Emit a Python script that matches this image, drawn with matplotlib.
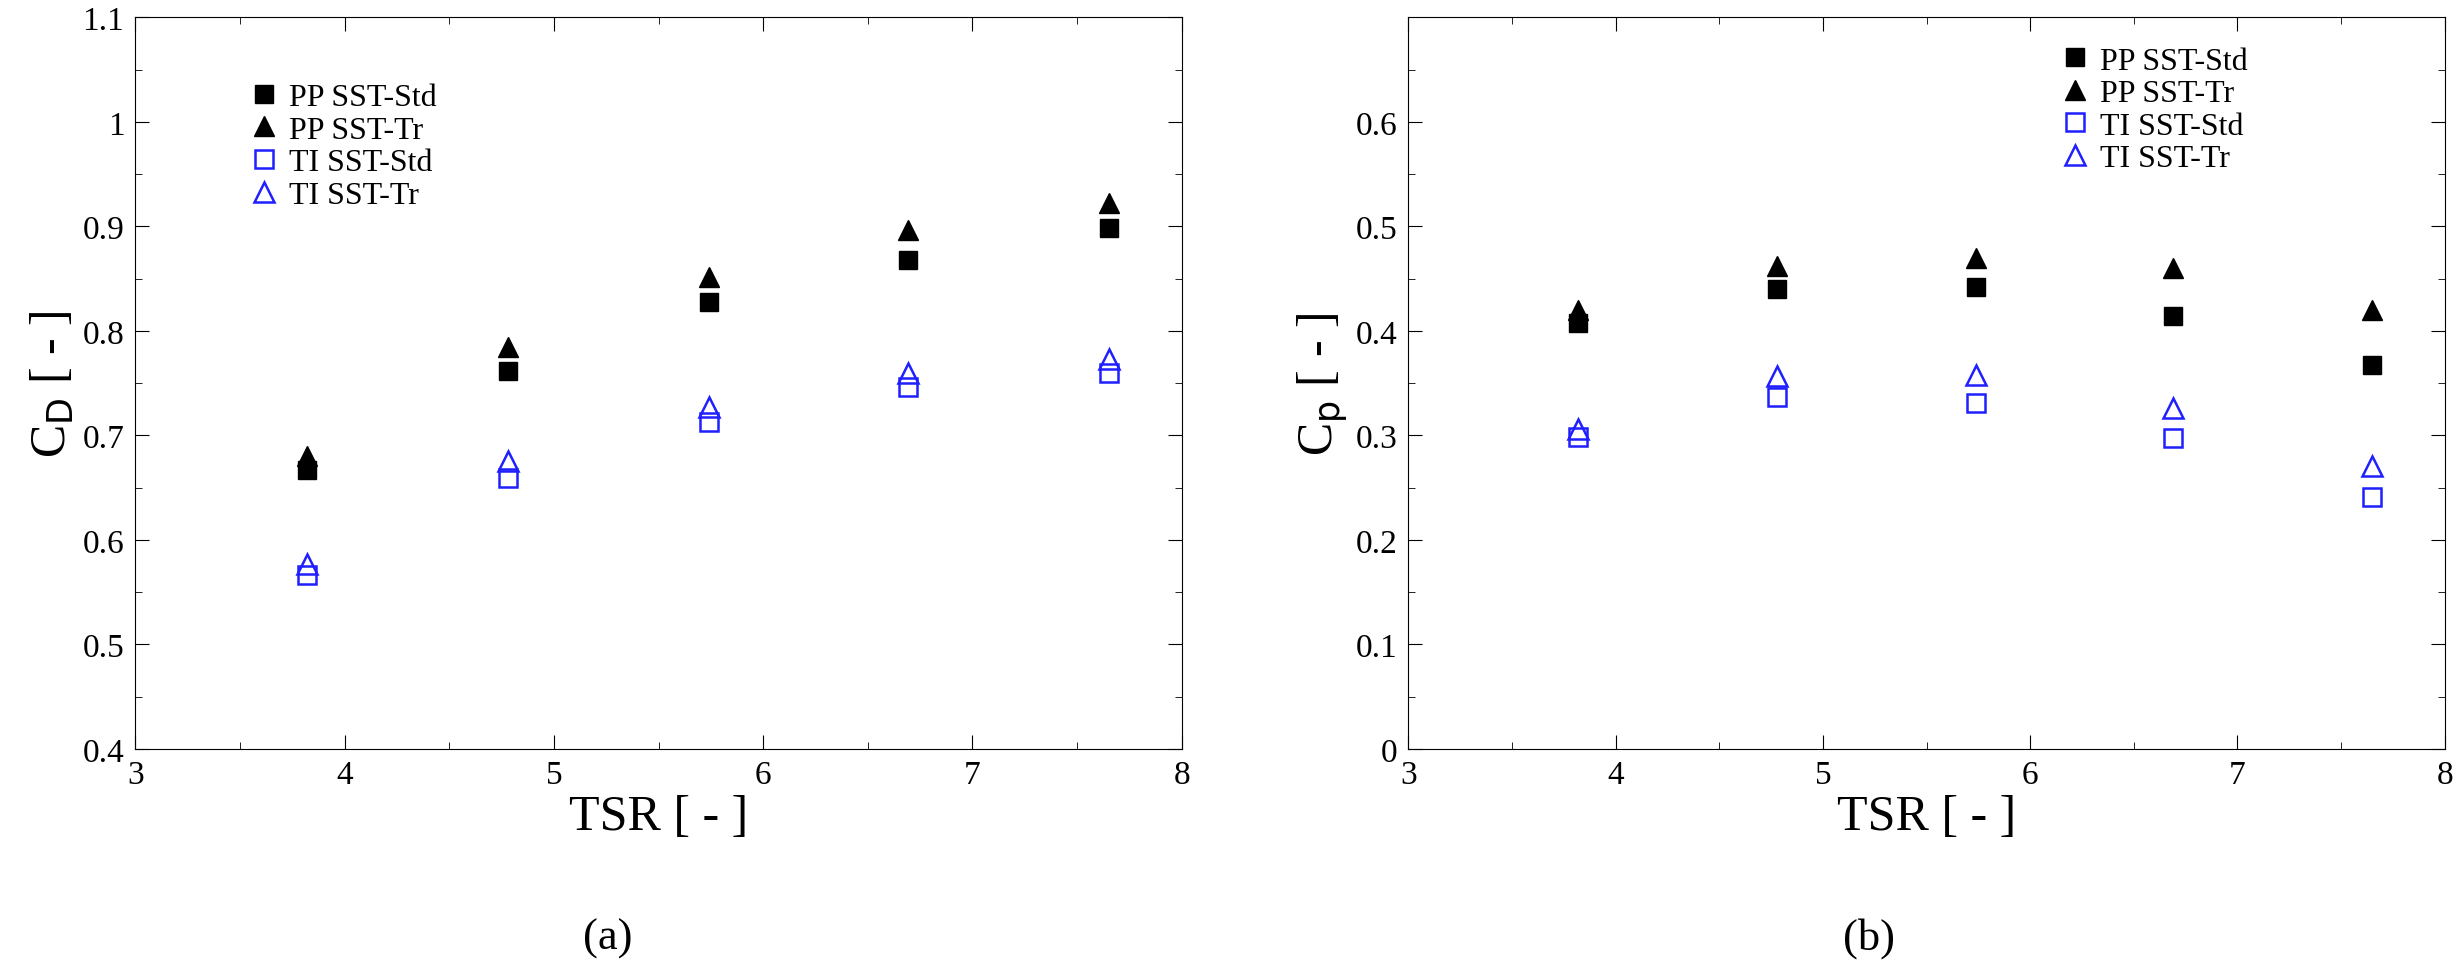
import matplotlib
matplotlib.use("Agg")
import matplotlib.pyplot as plt
from matplotlib.ticker import MultipleLocator

plt.rcParams['font.family'] = ['Liberation Serif', 'DejaVu Serif']

tsr = [3.82, 4.78, 5.74, 6.69, 7.65]
cd_pp_std = [0.667, 0.762, 0.828, 0.868, 0.898]
cd_pp_tr = [0.680, 0.785, 0.852, 0.897, 0.922]
cd_ti_std = [0.566, 0.659, 0.713, 0.746, 0.760]
cd_ti_tr = [0.577, 0.675, 0.727, 0.760, 0.773]
cp_pp_std = [0.408, 0.440, 0.442, 0.414, 0.367]
cp_pp_tr = [0.420, 0.462, 0.470, 0.460, 0.420]
cp_ti_std = [0.298, 0.337, 0.331, 0.297, 0.241]
cp_ti_tr = [0.306, 0.357, 0.358, 0.326, 0.271]
labels = ['PP SST-Std', 'PP SST-Tr', 'TI SST-Std', 'TI SST-Tr']

fig = plt.figure(figsize=(24.62, 9.70), dpi=100)
ax1 = fig.add_axes([0.055, 0.227, 0.425, 0.754])
ax2 = fig.add_axes([0.572, 0.227, 0.421, 0.754])

def draw(ax, a, b, c, d):
    ax.plot(tsr, a, 's', color='black', ms=13, ls='none', label=labels[0])
    ax.plot(tsr, b, '^', color='black', ms=14, ls='none', label=labels[1])
    ax.plot(tsr, c, 's', mfc='none', mec='#1f1fff', mew=1.8, ms=13, ls='none', label=labels[2])
    ax.plot(tsr, d, '^', mfc='none', mec='#1f1fff', mew=1.8, ms=14, ls='none', label=labels[3])
    ax.set_xlim(3, 8)
    ax.xaxis.set_major_locator(MultipleLocator(1))
    ax.xaxis.set_minor_locator(MultipleLocator(0.5))
    ax.tick_params(which='both', direction='in', top=True, right=True, labelsize=24)
    ax.tick_params(which='major', length=10, pad=8)
    ax.tick_params(which='minor', length=5)
    ax.set_xlabel('TSR [ - ]', fontsize=36, labelpad=2)

draw(ax1, cd_pp_std, cd_pp_tr, cd_ti_std, cd_ti_tr)
ax1.set_ylim(0.4, 1.1)
ax1.set_yticks([0.4, 0.5, 0.6, 0.7, 0.8, 0.9, 1.0, 1.1])
ax1.set_yticklabels(['0.4', '0.5', '0.6', '0.7', '0.8', '0.9', '1', '1.1'])
ax1.yaxis.set_minor_locator(MultipleLocator(0.05))
ax1.set_ylabel('C$_\\mathrm{D}$ [ - ]', fontsize=36)
ax1.legend(loc='upper left', bbox_to_anchor=(0.08, 0.95), frameon=False, fontsize=23,
           handletextpad=0.3, labelspacing=0.1, handlelength=1.0)

draw(ax2, cp_pp_std, cp_pp_tr, cp_ti_std, cp_ti_tr)
ax2.set_ylim(0, 0.7)
ax2.set_yticks([0, 0.1, 0.2, 0.3, 0.4, 0.5, 0.6])
ax2.set_yticklabels(['0', '0.1', '0.2', '0.3', '0.4', '0.5', '0.6'])
ax2.yaxis.set_minor_locator(MultipleLocator(0.05))
ax2.set_ylabel('C$_\\mathrm{p}$ [ - ]', fontsize=36)
ax2.legend(loc='upper left', bbox_to_anchor=(0.6, 1.0), frameon=False, fontsize=23,
           handletextpad=0.3, labelspacing=0.1, handlelength=1.0)

fig.text(0.247, 0.032, '(a)', ha='center', va='center', fontsize=32)
fig.text(0.759, 0.032, '(b)', ha='center', va='center', fontsize=32)
fig.savefig('out.png', dpi=100)
